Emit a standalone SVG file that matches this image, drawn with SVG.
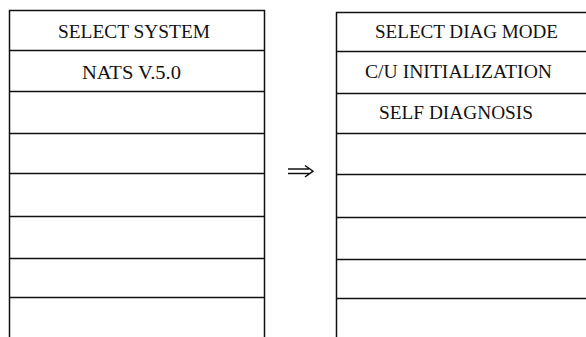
<svg xmlns="http://www.w3.org/2000/svg" width="586" height="337" viewBox="0 0 586 337">
<style>
.ln{stroke:#111;stroke-width:1.5;fill:none}
.t{font-family:"Liberation Serif","Times New Roman",serif;font-size:18.5px;fill:#111;text-anchor:middle}
</style>
<rect width="586" height="337" fill="#fff"/>
<g id="left-panel">
<path class="ln" d="M9.5,337 V10.5 H264.5 V337"/>
<path class="ln" d="M9.5,50.5 H264.5 M9.5,91.5 H264.5 M9.5,133.5 H264.5 M9.5,173.5 H264.5 M9.5,216.5 H264.5 M9.5,258.5 H264.5 M9.5,297.5 H264.5"/>
<text class="t" x="134" y="37.5" textLength="152" lengthAdjust="spacingAndGlyphs">SELECT SYSTEM</text>
<text class="t" x="131.5" y="78.5" textLength="99" lengthAdjust="spacingAndGlyphs">NATS V.5.0</text>
</g>
<g id="right-panel">
<path class="ln" d="M336.5,337 V12.5 H586"/>
<path class="ln" d="M336.5,51.5 H586 M336.5,93.5 H586 M336.5,133.5 H586 M336.5,174.5 H586 M336.5,217.5 H586 M336.5,259.5 H586 M336.5,298.5 H586"/>
<text class="t" x="466.5" y="37.5" textLength="183" lengthAdjust="spacingAndGlyphs">SELECT DIAG MODE</text>
<text class="t" x="458.5" y="77.5" textLength="187" lengthAdjust="spacingAndGlyphs">C/U INITIALIZATION</text>
<text class="t" x="456" y="119" textLength="154" lengthAdjust="spacingAndGlyphs">SELF DIAGNOSIS</text>
</g>
<g id="connectors">
<path class="ln" stroke-width="1.1" d="M288,169 H309 M288,173.5 H309 M305,165.5 L313,171.2 L305,177"/>
</g>
</svg>
